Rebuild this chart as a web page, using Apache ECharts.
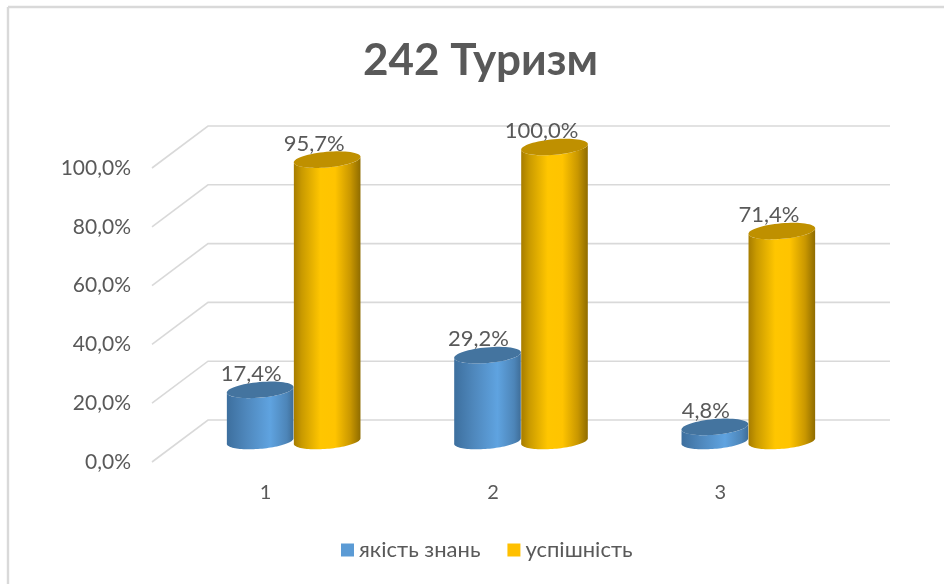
<!DOCTYPE html>
<html><head><meta charset="utf-8">
<script src="https://cdn.jsdelivr.net/npm/echarts@6/dist/echarts.min.js"></script>
<style>html,body{margin:0;padding:0;background:#fff}#c{width:944px;height:584px}</style>
</head><body><div id="c"></div>
<script>
const categories = ['1', '2', '3'];
const knowledgeQuality = [17.4, 29.2, 4.8];
const successRate = [95.7, 100, 71.4];
const seriesNames = ['якість знань', 'успішність'];
const titleText = '242 Туризм';
const yTicks = [0, 20, 40, 60, 80, 100];

const FONT = 'Lato, "Open Sans", sans-serif';
const DEPTH_X = 56, DEPTH_Y = -42;
const BAR_DX = 28, BAR_DY = -21;
const RX = 33.5, RY = 7.8, TILT = -5 * Math.PI / 180;
const fmt = v => v.toFixed(1).replace('.', ',') + '%';

function ellipsePoint(cx, cy, t) {
  const x = RX * Math.cos(t), y = RY * Math.sin(t);
  return [cx + x * Math.cos(TILT) - y * Math.sin(TILT), cy + x * Math.sin(TILT) + y * Math.cos(TILT)];
}
function bodyPoints(cx, top, bottom) {
  const pts = [];
  for (let i = 0; i <= 48; i++) {
    const t = -TILT + Math.PI * i / 48;
    pts.push(ellipsePoint(cx, bottom, t));
  }
  for (let i = 48; i >= 0; i--) {
    const t = -TILT + Math.PI * i / 48;
    pts.push(ellipsePoint(cx, top, t));
  }
  return pts;
}
function grad(stops) {
  return new echarts.graphic.LinearGradient(0, 0, 1, 0, stops.map(s => ({ offset: s[0], color: s[1] })));
}
function cylinderRenderer(shift, stops, topColor, labelShift) {
  return function (params, api) {
    const idx = api.value(0), val = api.value(1);
    const t = api.coord([idx, val]), b = api.coord([idx, 0]);
    const cx = t[0] + BAR_DX + shift;
    const top = t[1] + BAR_DY, bottom = b[1] + BAR_DY;
    const pts = [];
    for (let i = 0; i < 64; i++) pts.push(ellipsePoint(cx, top, i / 64 * Math.PI * 2));
    return {
      type: 'group',
      children: [
        { type: 'polygon', shape: { points: bodyPoints(cx, top, bottom) }, style: { fill: grad(stops) } },
        { type: 'polygon', shape: { points: pts }, style: { fill: topColor } },
        { type: 'text', z2: 50, style: {
            x: cx + labelShift, y: top - 16, text: fmt(val), fill: '#595959',
            font: '22px ' + FONT, align: 'center', verticalAlign: 'middle' } }
      ]
    };
  };
}
function wallsRenderer(params, api) {
  const y = api.coord([0, api.value(0)])[1];
  const xl = params.coordSys.x, xr = xl + params.coordSys.width;
  return {
    type: 'polyline',
    shape: { points: [[xl, y], [xl + DEPTH_X, y + DEPTH_Y], [xr + DEPTH_X, y + DEPTH_Y]] },
    style: { fill: 'none', stroke: '#d9d9d9', lineWidth: 1.6 }
  };
}

const chart = echarts.init(document.getElementById('c'), null, { renderer: 'canvas' });
chart.setOption({
  animation: false,
  backgroundColor: '#ffffff',
  title: {
    text: titleText, top: 34, left: 475.5, textAlign: 'center',
    textStyle: { color: '#595959', fontFamily: FONT, fontWeight: 'bold', fontSize: 44 }
  },
  legend: {
    left: 341, top: 539, padding: 0, itemWidth: 13, itemHeight: 13, itemGap: 27,
    icon: 'rect', selectedMode: false,
    textStyle: { color: '#595959', fontFamily: FONT, fontSize: 22 },
    data: seriesNames
  },
  grid: { left: 152, width: 682, top: 168, height: 294 },
  xAxis: {
    type: 'category', data: categories,
    axisLine: { show: false }, axisTick: { show: false },
    axisLabel: { color: '#595959', fontFamily: FONT, fontSize: 20, margin: 21 }
  },
  yAxis: {
    type: 'value', min: 0, max: 100, interval: 20,
    axisLine: { show: false }, axisTick: { show: false }, splitLine: { show: false },
    axisLabel: { color: '#595959', fontFamily: FONT, fontSize: 21, margin: 21, padding: [4, 0, 0, 0], formatter: v => fmt(v) }
  },
  graphic: [
    { type: 'line', silent: true, shape: { x1: 8, y1: 7, x2: 944, y2: 7 }, style: { stroke: '#d9d9d9', lineWidth: 2.4 } },
    { type: 'line', silent: true, shape: { x1: 8, y1: 7, x2: 8, y2: 584 }, style: { stroke: '#d9d9d9', lineWidth: 2.4 } }
  ],
  series: [
    { type: 'custom', name: '_walls', silent: true, z: 1, clip: false, data: yTicks.map(v => [v]), encode: { y: 0 },
      renderItem: wallsRenderer },
    { type: 'custom', name: seriesNames[0], z: 2, clip: false, itemStyle: { color: '#5b9bd5' },
      data: knowledgeQuality.map((v, i) => [i, v]), encode: { x: 0, y: 1 },
      renderItem: cylinderRenderer(-33.5,
        [[0, '#3d6f9e'], [0.3, '#4f88bd'], [0.65, '#5fa3e0'], [0.9, '#4d85b8'], [1, '#3f6e99']], '#44749f', -9) },
    { type: 'custom', name: seriesNames[1], z: 3, clip: false, itemStyle: { color: '#ffc000' },
      data: successRate.map((v, i) => [i, v]), encode: { x: 0, y: 1 },
      renderItem: cylinderRenderer(33.5,
        [[0, '#a67c00'], [0.12, '#c99a00'], [0.4, '#ffc600'], [0.62, '#ffc400'], [0.85, '#c99700'], [1, '#8f6c00']], '#bf9000', -13) }
  ]
});
</script></body></html>
